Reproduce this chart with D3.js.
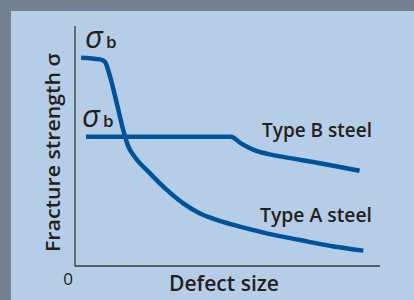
<!DOCTYPE html>
<html><head><meta charset="utf-8">
<script src="https://cdn.jsdelivr.net/npm/d3@7/dist/d3.min.js"></script>
<style>html,body{margin:0;padding:0;background:#747f8f;}svg{display:block;}</style>
</head><body><svg id="c" width="414" height="300"></svg>
<script>
// Data (arbitrary units: x defect size 0-100, y fracture strength 0-100)
const typeAx = [2, 8.2, 9.8, 11.5, 13.7, 15.8, 17.5, 19.1, 24.6, 30.1, 35.5, 41.0, 46.5, 52.0, 62.9, 73.8, 84.8, 94.5];
const typeAy = [86.8, 86.1, 85.1, 78.9, 67.8, 56.7, 49.7, 46.3, 38.6, 31.7, 26.1, 21.9, 19.2, 17.1, 13.6, 10.8, 8.1, 6.4];
const typeBx = [3.6, 51.1, 54.4, 58.8, 63.2, 74.1, 85.1, 93.3];
const typeBy = [53.9, 53.9, 51.1, 48.3, 46.7, 44.2, 41.7, 39.7];
const xTickLabels = ["0"];
const seriesNames = ["Type A steel", "Type B steel"];
const axisTitles = {x: "Defect size", y: "Fracture strength \u03c3"};

const svg = d3.select("#c");
svg.append("rect").attr("x",0).attr("y",0).attr("width",414).attr("height",300).attr("fill","#747f8f");
svg.append("rect").attr("x",11).attr("y",11).attr("width",403).attr("height",289).attr("fill","#b6cde7");

const x = d3.scaleLinear().domain([0,100]).range([75,380]);
const y = d3.scaleLinear().domain([0,100]).range([266,26]);

const axisCol = "#3a3a3a";
svg.append("line").attr("x1",x(0)).attr("x2",x(0)).attr("y1",y(100)).attr("y2",y(0)+0.5)
  .attr("stroke",axisCol).attr("stroke-width",1.3);
svg.append("line").attr("x1",x(0)).attr("x2",x(100)).attr("y1",y(0)).attr("y2",y(0))
  .attr("stroke",axisCol).attr("stroke-width",1.3);

const font = "'Open Sans', sans-serif";
const txt = "#231f20";

const line = d3.line().x(d=>x(d[0])).y(d=>y(d[1])).curve(d3.curveMonotoneX);
const lineCol = "#00539b";
svg.append("path").datum(typeBx.map((v,i)=>[v,typeBy[i]])).attr("d",line)
  .attr("fill","none").attr("stroke",lineCol).attr("stroke-width",4.5);
svg.append("path").datum(typeAx.map((v,i)=>[v,typeAy[i]])).attr("d",line)
  .attr("fill","none").attr("stroke",lineCol).attr("stroke-width",4.5);

// tick label 0
svg.append("text").attr("x",68).attr("y",285).attr("text-anchor","middle")
  .attr("font-family",font).attr("font-size",17).attr("fill",txt).text(xTickLabels[0]);

// axis titles
svg.append("text").attr("x",169).attr("y",291).attr("textLength",110).attr("lengthAdjust","spacingAndGlyphs")
  .attr("font-family",font).attr("font-weight",600).attr("font-size",21).attr("fill",txt).text(axisTitles.x);
svg.append("text").attr("transform","translate(60,252) rotate(-90)").attr("textLength",199).attr("lengthAdjust","spacingAndGlyphs")
  .attr("font-family",font).attr("font-weight",600).attr("font-size",20).attr("fill",txt).text(axisTitles.y);

// sigma_b labels
function sigmaB(xp, yp){
  const t = svg.append("text").attr("x",xp).attr("y",yp).attr("font-family",font).attr("fill",txt);
  t.append("tspan").attr("font-size",31).attr("font-style","italic").text("\u03c3");
  t.append("tspan").attr("font-size",17).attr("font-weight",600).attr("dx",3).text("b");
}
sigmaB(85, 48);
sigmaB(82, 127);

// series labels
svg.append("text").attr("x",262).attr("y",137).attr("textLength",110).attr("lengthAdjust","spacingAndGlyphs")
  .attr("font-family",font).attr("font-weight",600).attr("font-size",20).attr("fill",txt).text(seriesNames[1]);
svg.append("text").attr("x",260).attr("y",222).attr("textLength",112).attr("lengthAdjust","spacingAndGlyphs")
  .attr("font-family",font).attr("font-weight",600).attr("font-size",20).attr("fill",txt).text(seriesNames[0]);
</script></body></html>
